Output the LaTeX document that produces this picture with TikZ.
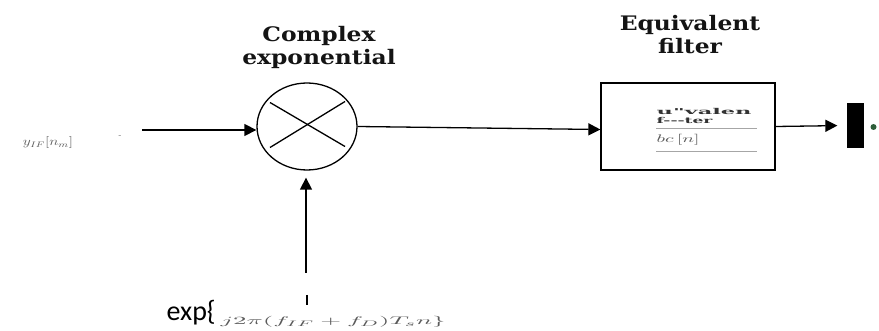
\documentclass[tikz,border=0pt]{standalone}
\usepackage{fontspec}
\usetikzlibrary{arrows.meta,shapes.geometric,calc}
\newfontfamily\titlefont{DejaVu Serif}
\newfontfamily\expfont{Carlito}
\newcommand{\widen}[1]{\scalebox{1.17}[1]{#1}}
\definecolor{dotgreen}{HTML}{2E5E3A}
\definecolor{labelgray}{HTML}{5A5A5A}
\begin{document}
\begin{tikzpicture}[x=1pt,y=-1pt,line width=1.3pt,
  >={Triangle[length=12pt,width=12pt]},
  title/.style={font=\titlefont\bfseries\fontsize{20}{23}\selectfont,align=center,text=black!92,inner sep=0},
  boxtext/.style={font=\titlefont\bfseries\fontsize{9}{9}\selectfont,anchor=west,inner sep=0,text=black!80},
  faint/.style={text=labelgray,inner sep=0},
  rule/.style={gray!70,line width=0.8pt}]
\useasboundingbox (0,0) rectangle (879,331);

% headings
\node[title] (tmix) at (319,47) {\widen{Complex}\\\widen{exponential}};
\node[title] (tfilt) at (690,35) {\widen{Equivalent}\\\widen{filter}};

% mixer and filter blocks
\node[draw,ellipse,minimum width=100pt,minimum height=87pt,inner sep=0] (mix) at (307,126.5) {};
\draw ($(mix.center)+(-37,-24)$) -- ($(mix.center)+(38,20)$);
\draw ($(mix.center)+(-37,21)$) -- ($(mix.center)+(38,-25)$);
\node[draw,minimum width=174pt,minimum height=87pt,inner sep=0] (filt) at (688,126.5) {};

% text inside the filter block
\node[boxtext] (fa) at (656,111.5) {\scalebox{2.5}[0.9]{u"valen}};
\node[boxtext] (fb) at (656,120.5) {\scalebox{1.9}[0.9]{f---ter}};
\draw[rule] (656,128) -- (757,128);
\node[faint,anchor=west,font=\fontsize{11}{11}\selectfont] (fc) at (656,140) {\scalebox{1.8}[1]{$bc\,[n]$}};
\draw[rule] (656,151) -- (757,151);

% output load
\node[fill=black,minimum width=17pt,minimum height=45pt,inner sep=0] (bar) at (855.5,125.5) {};
\node[circle,fill=dotgreen,minimum size=6pt,inner sep=0] (dot) at (873.5,127) {};

% input signal
\node[faint,font=\fontsize{12}{12}\selectfont] (yin) at (48,143) {\scalebox{1.3}[1]{$y_{IF}[n_{m}]$}};
\node[faint,font=\fontsize{8}{8}\selectfont] (dash) at (120,137) {-};
\coordinate (src) at (142,130);
\draw[->] (src) -- (mix.west |- src);

% signal path
\draw[->] (mix.east) -- ($(filt.west)+(0,3)$);
\draw[->,shorten >=9pt] (filt.east) -- (bar.west);

% local oscillator input
\coordinate (lo) at (306,273);
\draw[->,shorten >=7pt] (lo) -- (mix.south -| lo);
\draw (307,295) -- (307,305);
\node[anchor=base west,font=\expfont\fontsize{28}{28}\selectfont,inner sep=0] (explbl) at (166,320) {exp\{};
\node[faint,anchor=west,font=\fontsize{11}{11}\selectfont] (expsub) at (220,322) {\scalebox{2.45}[1]{$j2\pi(f_{IF}+f_{D})T_{s}n\}$}};
\end{tikzpicture}
\end{document}
